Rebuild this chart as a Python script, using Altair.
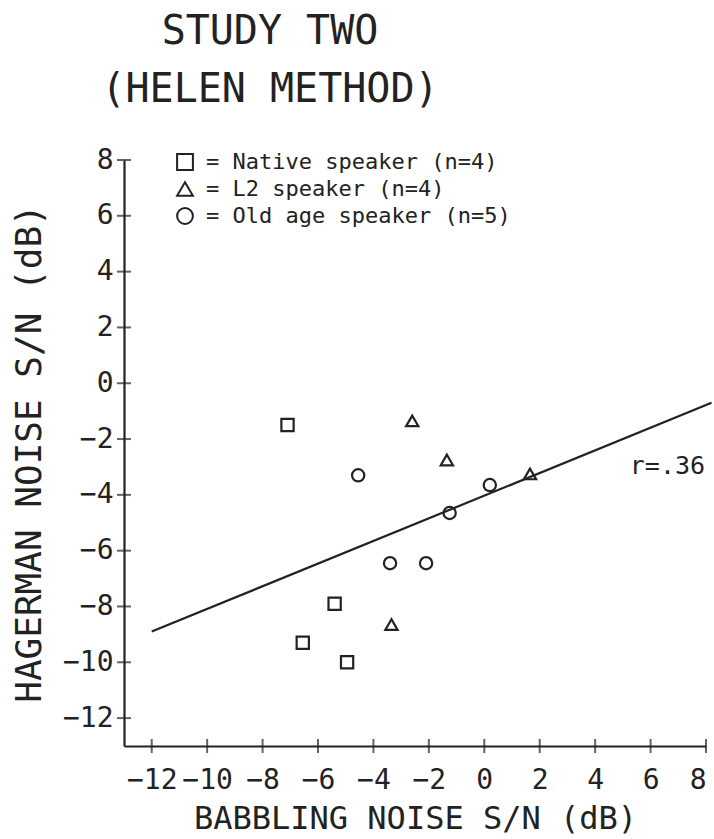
import altair as alt
import pandas as pd

# Speaker groups: babbling-noise S/N (x) vs Hagerman-noise S/N (y), in dB
native_x = [-7.1, -5.4, -6.55, -4.95]
native_y = [-1.5, -7.9, -9.3, -10.0]
l2_x = [-2.6, -1.35, -3.35, 1.65]
l2_y = [-1.35, -2.75, -8.65, -3.25]
old_x = [-4.55, 0.2, -1.25, -3.4, -2.1]
old_y = [-3.3, -3.65, -4.65, -6.45, -6.45]

groups = ["Native speaker (n=4)", "L2 speaker (n=4)", "Old age speaker (n=5)"]
shapes = ["square", "triangle-up", "circle"]

# Regression line end points and its correlation label
fit_x = [-12.0, 8.2]
fit_y = [-8.9, -0.7]
r_label = ["r=.36"]
r_label_x = [5.25]
r_label_y = [-2.95]

x_ticks = [-12, -10, -8, -6, -4, -2, 0, 2, 4, 6, 8]
y_ticks = [-12, -10, -8, -6, -4, -2, 0, 2, 4, 6, 8]
domain_min, domain_max = -13, 8

FONT = "DejaVu Sans Mono"
INK = "#222222"
W, H = 582, 586

rows = []
for g, xs, ys in zip(groups, [native_x, l2_x, old_x], [native_y, l2_y, old_y]):
    for a, b in zip(xs, ys):
        rows.append({"group": g, "babble": a, "hagerman": b})
points_df = pd.DataFrame(rows)
fit_df = pd.DataFrame({"babble": fit_x, "hagerman": fit_y})
label_df = pd.DataFrame({"babble": r_label_x, "hagerman": r_label_y, "text": r_label})
xt_df = pd.DataFrame({"babble": x_ticks})
yt_df = pd.DataFrame({"hagerman": y_ticks})

x_scale = alt.Scale(domain=[domain_min, domain_max], nice=False, zero=False)
y_scale = alt.Scale(domain=[domain_min, domain_max], nice=False, zero=False)

axis_style = dict(
    ticks=False, grid=False,
    domainColor=INK, domainWidth=2.2,
    labelFont=FONT, labelFontSize=28, labelColor=INK,
    titleFont=FONT, titleFontWeight="normal", titleColor=INK,
)
x_axis = alt.Axis(values=x_ticks, labelPadding=20, titlePadding=9, titleFontSize=32,
                  **axis_style)
y_axis = alt.Axis(values=y_ticks, labelPadding=11, titlePadding=14, titleFontSize=36,
                  **axis_style)

X = alt.X("babble:Q", scale=x_scale, title="BABBLING NOISE S/N (dB)", axis=x_axis)
Y = alt.Y("hagerman:Q", scale=y_scale, title="HAGERMAN NOISE S/N (dB)", axis=y_axis)

points = alt.Chart(points_df).mark_point(
    filled=False, size=150, strokeWidth=2.2, color=INK, opacity=1
).encode(
    x=X,
    y=Y,
    shape=alt.Shape(
        "group:N",
        scale=alt.Scale(domain=groups, range=shapes),
        legend=alt.Legend(
            title=None, orient="none", legendX=50, legendY=-9,
            symbolSize=250, symbolStrokeWidth=2, symbolStrokeColor=INK,
            symbolFillColor="transparent",
            labelFont=FONT, labelFontSize=22, labelColor=INK, labelOffset=10,
            labelLimit=600, labelExpr="'= ' + datum.label", rowPadding=4,
        ),
    ),
)

fit_line = alt.Chart(fit_df).mark_line(color=INK, strokeWidth=2.2).encode(x=X, y=Y)

r_text = alt.Chart(label_df).mark_text(
    font=FONT, fontSize=25, color=INK, align="left", baseline="middle"
).encode(x=X, y=Y, text="text:N")

# Tick marks that cross the axis lines
x_tick_marks = alt.Chart(xt_df).mark_tick(
    orient="vertical", size=14, thickness=2, color=INK
).encode(x=X, y=alt.value(H))
y_tick_marks = alt.Chart(yt_df).mark_tick(
    orient="horizontal", size=14, thickness=2, color=INK
).encode(y=Y, x=alt.value(0))

chart = alt.layer(
    fit_line, x_tick_marks, y_tick_marks, points, r_text
).properties(
    width=W,
    height=H,
    background="white",
    autosize=alt.AutoSizeParams(type="none"),
    padding={"left": 124, "top": 160, "right": 8, "bottom": 93},
    title=alt.Title(
        ["STUDY TWO", "(HELEN METHOD)"],
        font=FONT, fontSize=40, fontWeight="normal", color=INK,
        anchor="middle", frame="group", dx=-145, offset=36, lineHeight=58,
    ),
).configure_view(
    stroke=None
)

chart.save("out.html", embed_options={"renderer": "svg", "actions": False})
